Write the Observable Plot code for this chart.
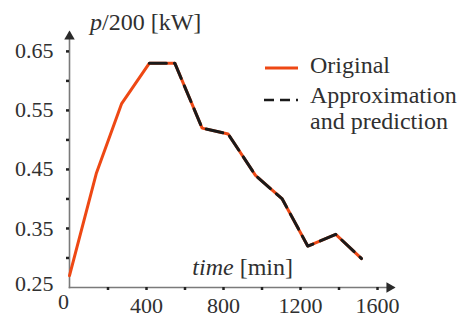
<!DOCTYPE html>
<html><head><meta charset="utf-8">
<script src="https://cdn.jsdelivr.net/npm/d3@7"></script>
<script src="https://cdn.jsdelivr.net/npm/@observablehq/plot@0.6"></script>
<style>
html,body{margin:0;padding:0;background:#fff;}
#wrap{position:relative;width:465px;height:325px;}
#over{position:absolute;left:0;top:0;pointer-events:none;}
text{font-family:"Liberation Serif","DejaVu Serif",serif;}
</style></head>
<body><div id="wrap"></div>
<script>
const time = [0, 139, 270, 415, 547, 689, 824, 966, 1105, 1238, 1383, 1517];
const original = [0.27, 0.443, 0.561, 0.63, 0.63, 0.52, 0.51, 0.44, 0.40, 0.32, 0.34, 0.299];
const approxTime = [415, 547, 689, 824, 966, 1105, 1238, 1383, 1517];
const approx = [0.63, 0.63, 0.52, 0.51, 0.44, 0.40, 0.32, 0.34, 0.299];
const yLabelTicks = [0.35, 0.45, 0.55, 0.65];
const yMinorTicks = [0.30, 0.35, 0.40, 0.45, 0.50, 0.55, 0.60, 0.65];
const xLabelTicks = [400, 800, 1200, 1600];
const xMinorTicks = [200, 400, 600, 800, 1000, 1200, 1400, 1600];

const orig = time.map((t, i) => ({t, v: original[i]}));
const appr = approxTime.map((t, i) => ({t, v: approx[i]}));
const ORANGE = "#ee4814";
const TXT = "#303030";

const chart = Plot.plot({
  width: 465, height: 325,
  marginLeft: 69, marginRight: 72, marginTop: 32, marginBottom: 38,
  style: {fontFamily: "Liberation Serif, serif", color: TXT, background: "#fff"},
  x: {domain: [0, 1683], axis: null},
  y: {domain: [0.25, 0.682], axis: null},
  marks: [
    Plot.frame({anchor: "left", stroke: "#7a7a7a", strokeWidth: 1.6}),
    Plot.frame({anchor: "bottom", stroke: "#7a7a7a", strokeWidth: 1.6}),
    Plot.axisY({ticks: yMinorTicks, tickSize: 3, tickFormat: () => "", stroke: "#222", strokeWidth: 2.5, label: null}),
    Plot.axisX({ticks: xMinorTicks, tickSize: 3, tickFormat: () => "", stroke: "#222", strokeWidth: 2.5, label: null}),
    Plot.axisY({ticks: yLabelTicks, tickSize: 0, tickPadding: 16, tickFormat: d3.format(".2f"), fontSize: 22, fill: TXT, label: null}),
    Plot.axisY({ticks: [0.25], tickSize: 0, tickPadding: 16, tickFormat: d3.format(".2f"), fontSize: 22, fill: TXT, dy: -4, label: null}),
    Plot.axisX({ticks: xLabelTicks, tickSize: 0, tickPadding: 10, tickFormat: d3.format("d"), fontSize: 22, fill: TXT, label: null}),
    Plot.axisX({ticks: [0], tickSize: 0, tickPadding: 6, tickFormat: d3.format("d"), fontSize: 22, fill: TXT, dx: -6, label: null}),
    Plot.dot([0], {frameAnchor: "top-left", symbol: "triangle", r: 3.9, fill: "#2a2a2a", stroke: "none", dy: 4}),
    Plot.dot([0], {frameAnchor: "bottom-right", symbol: "triangle", r: 3.9, fill: "#2a2a2a", stroke: "none", rotate: 90, dx: -4}),
    Plot.line(orig, {x: "t", y: "v", stroke: ORANGE, strokeWidth: 3, strokeLinejoin: "miter"}),
    Plot.line(appr, {x: "t", y: "v", stroke: "#1a1a1a", strokeWidth: 3, strokeDasharray: "17,8"})
  ]
});
document.getElementById("wrap").appendChild(chart);

const ns = "http://www.w3.org/2000/svg";
const over = document.createElementNS(ns, "svg");
over.setAttribute("id", "over");
over.setAttribute("width", 465);
over.setAttribute("height", 325);
over.innerHTML = `
<text x="90" y="30" font-size="24" fill="${TXT}"><tspan font-style="italic">p</tspan>/200 [kW]</text>
<text x="293" y="275" font-size="24" fill="${TXT}" text-anchor="end"><tspan font-style="italic">time</tspan> [min]</text>
<line x1="265" x2="298" y1="68" y2="68" stroke="${ORANGE}" stroke-width="3"/>
<text x="310" y="73" font-size="24" fill="${TXT}">Original</text>
<line x1="264" x2="298" y1="100" y2="100" stroke="#1a1a1a" stroke-width="2.5" stroke-dasharray="10,6"/>
<text x="310" y="103" font-size="24" fill="${TXT}">Approximation</text>
<text x="310" y="129" font-size="24" fill="${TXT}">and prediction</text>`;
document.getElementById("wrap").appendChild(over);
</script></body></html>
